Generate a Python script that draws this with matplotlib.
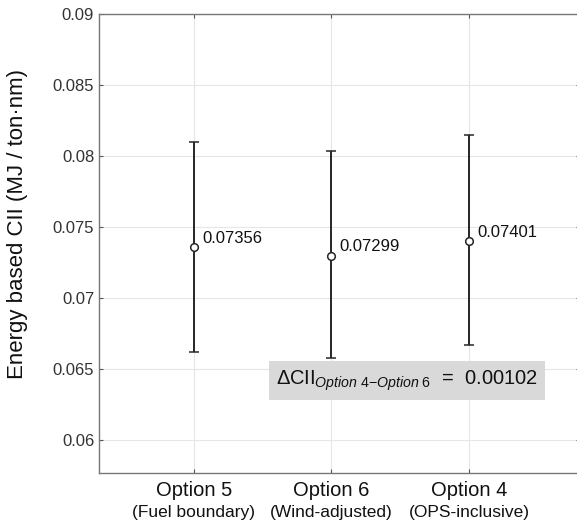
import numpy as np
import matplotlib.pyplot as plt

plt.rcParams['font.family'] = ['Liberation Sans', 'DejaVu Sans']
plt.rcParams['mathtext.fontset'] = 'custom'
plt.rcParams['mathtext.rm'] = 'Liberation Sans'
plt.rcParams['mathtext.it'] = 'Liberation Sans:italic'

options = ['Option 5', 'Option 6', 'Option 4']
notes = ['(Fuel boundary)', '(Wind-adjusted)', '(OPS-inclusive)']
means = [0.07356, 0.07299, 0.07401]
lower = [0.06623, 0.06581, 0.06672]
upper = [0.08102, 0.08037, 0.08151]
delta = 0.00102

x = np.arange(1, len(options) + 1)
err = [np.array(means) - np.array(lower), np.array(upper) - np.array(means)]

fig = plt.figure(figsize=(5.77, 5.23), dpi=100)
# right edge sits just past the image border, as in the reference crop
ax = fig.add_axes([0.1716, 0.0956, 0.833, 0.8776])

ax.errorbar(x, means, yerr=err, fmt='o', color='#262626', ecolor='#262626',
            elinewidth=1.4, capsize=3.5, capthick=1.4, markersize=5.5,
            markerfacecolor='white', markeredgecolor='#262626', markeredgewidth=1.1,
            zorder=3)
for xi, m in zip(x, means):
    ax.annotate(f'{m:.5f}', (xi, m), xytext=(6, 6.5), textcoords='offset points',
                fontsize=12, color='#111111', va='center', ha='left')

ax.set_xlim(0.31, 3.805)
ax.set_ylim(0.05768, 0.09)
ax.set_yticks([0.06, 0.065, 0.07, 0.075, 0.08, 0.085, 0.09])
ax.set_yticklabels(['0.06', '0.065', '0.07', '0.075', '0.08', '0.085', '0.09'])
ax.set_xticks(x)
ax.set_xticklabels(options, fontsize=14.5, color='#111111')
ax.tick_params(axis='y', labelsize=12, labelcolor='#333333', direction='in',
               length=3, color='#555555', right=True)
ax.tick_params(axis='x', direction='in', length=3, color='#555555', pad=6, top=True)
for xi, n in zip(x, notes):
    ax.text(xi, -0.085, n, transform=ax.get_xaxis_transform(), ha='center',
            va='center', fontsize=12.5, color='#111111')

ax.grid(True, color='#e6e6e6', linewidth=0.8)
ax.set_axisbelow(True)
for s in ax.spines.values():
    s.set_color('#777777')
    s.set_linewidth(1.0)

ax.set_ylabel('Energy based CII (MJ / ton\u00b7nm)', fontsize=16, color='#111111')
ax.yaxis.set_label_coords(-0.148, 0.542)

ax.text(2.55, 0.0642,
        r'$\mathit{\Delta}$CII$_{\mathit{Option\ 4}\mathrm{-}\mathit{Option\ 6}}$  =  ' + f'{delta:.5f}',
        ha='center', va='center', fontsize=14.5, color='#111111',
        bbox=dict(boxstyle='square,pad=0.35', facecolor='#d9d9d9', edgecolor='none'),
        zorder=4)

fig.savefig('out.png', dpi=100)
